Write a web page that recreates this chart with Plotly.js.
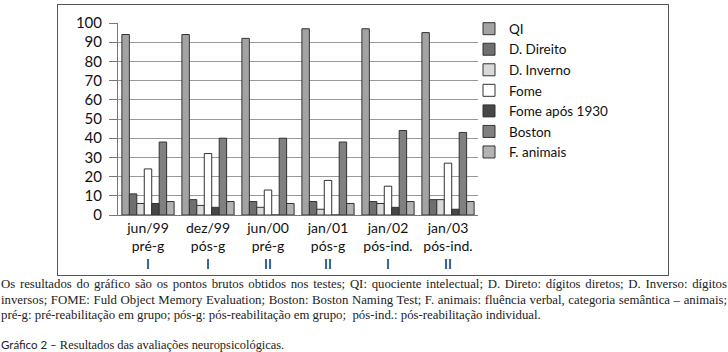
<!DOCTYPE html>
<html><head><meta charset="utf-8">
<script src="https://cdn.plot.ly/plotly-3.0.1.min.js"></script>
<style>
body{margin:0;width:728px;height:352px;overflow:hidden;background:#fff;position:relative;}
#frame{position:absolute;left:57px;top:4px;width:610px;height:270px;border:1px solid #555;}
#plot{position:absolute;left:0;top:0;width:728px;height:280px;}
.serif{font-family:"Liberation Serif", serif !important;}
#cap{position:absolute;left:1px;top:277px;width:726px;font-size:12.8px;line-height:15.5px;text-align:justify;color:#222;}
#fig{position:absolute;left:1px;top:338px;font-size:12.4px;color:#222;}
#fig span{font-family:Lato, sans-serif;font-size:11.5px;}
</style></head><body>
<div id="frame"></div>
<div id="plot"></div>
<div id="cap" class="serif">Os resultados do gráfico são os pontos brutos obtidos nos testes; QI: quociente intelectual; D. Direto: dígitos diretos; D. Inverso: dígitos inversos; FOME: Fuld Object Memory Evaluation; Boston: Boston Naming Test; F. animais: fluência verbal, categoria semântica – animais; pré-g: pré-reabilitação em grupo; pós-g: pós-reabilitação em grupo;&nbsp; pós-ind.: pós-reabilitação individual.</div>
<div id="fig" class="serif"><span>Gráfico 2 –</span> Resultados das avaliações neuropsicológicas.</div>
<script>
const categories = ["jun/99<br>pré-g<br>I","dez/99<br>pós-g<br>I","jun/00<br>pré-g<br>II","jan/01<br>pós-g<br>II","jan/02<br>pós-ind.<br>I","jan/03<br>pós-ind.<br>II"];
const seriesNames = ["QI","D. Direito","D. Inverno","Fome","Fome após 1930","Boston","F. animais"];
const QI = [94,94,92,97,97,95];
const dDireito = [11,8,7,7,7,8];
const dInverno = [6,5,4,3,6,8];
const fome = [24,32,13,18,15,27];
const fomeApos = [6,4,0,0,4,3];
const boston = [38,40,40,38,44,43];
const fAnimais = [7,7,6,6,7,7];
const seriesValues = [QI,dDireito,dInverno,fome,fomeApos,boston,fAnimais];
const colors = ["#a3a3a3","#6f6f6f","#d9d9d9","#ffffff","#474747","#808080","#b3b3b3"];

const traces = seriesNames.map((n,i)=>({
  type:"bar", name:n, x:categories, y:seriesValues[i],
  marker:{color:colors[i], line:{color:"#333", width:1}}
}));
const layout = {
  width:728, height:280,
  margin:{l:118, r:250, t:23, b:65},
  paper_bgcolor:"rgba(0,0,0,0)", plot_bgcolor:"#fff",
  barmode:"group", bargap:0.13, bargroupgap:0,
  font:{family:"Lato, 'Open Sans', sans-serif", size:15, color:"#111"},
  xaxis:{showline:true, linecolor:"#777", ticks:"", tickfont:{size:14}, showgrid:false},
  yaxis:{range:[0,100], dtick:10, showgrid:true, gridcolor:"#999", gridwidth:1, showline:true, linecolor:"#777", ticks:"outside", ticklen:8, tickcolor:"#777", ticklabelstandoff:4, tickfont:{size:15}, zeroline:false},
  legend:{x:0.975, y:1.05, xanchor:"left", yanchor:"top", font:{size:13.5}, bgcolor:"rgba(0,0,0,0)", tracegroupgap:0, itemwidth:30, maxheight:1},
  showlegend:true
};
Plotly.newPlot("plot", traces, layout, {displayModeBar:false, staticPlot:true});
</script>
</body></html>
